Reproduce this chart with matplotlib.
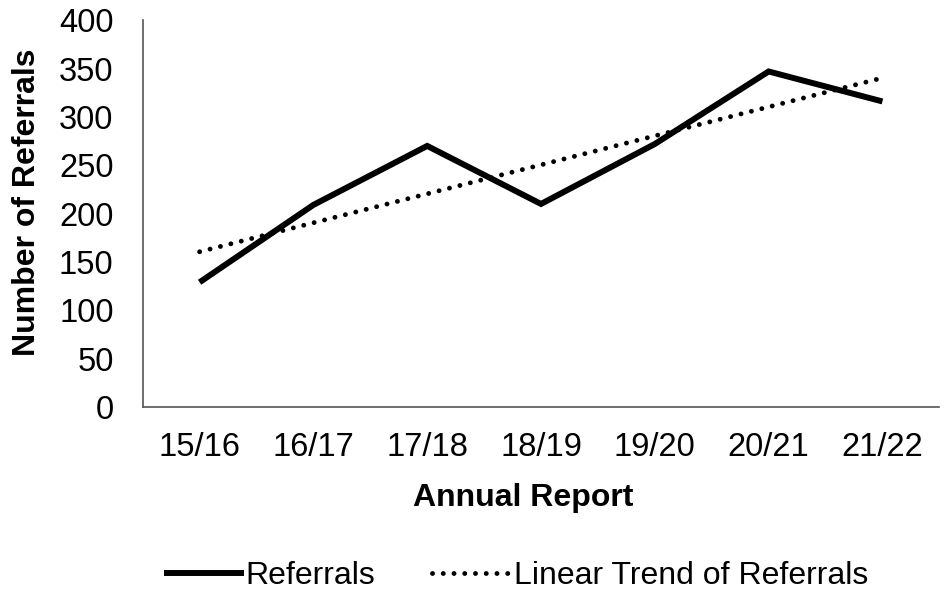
import matplotlib
matplotlib.use("Agg")
import matplotlib.pyplot as plt
import numpy as np

years = ["15/16", "16/17", "17/18", "18/19", "19/20", "20/21", "21/22"]
referrals = [129, 209, 270, 210, 272, 347, 316]
y_ticks = [0, 50, 100, 150, 200, 250, 300, 350, 400]

plt.rcParams["font.family"] = ["Liberation Sans", "DejaVu Sans"]

x = np.arange(len(years))
# Excel-style linear trendline fitted to the series
slope, intercept = np.polyfit(x, referrals, 1)
trend = slope * x + intercept

fig = plt.figure(figsize=(9.45, 5.95), dpi=100)
ax = fig.add_axes([0.151, 0.316, 0.843, 0.650])

ax.plot(x, referrals, color="black", lw=4.3, solid_capstyle="butt",
        solid_joinstyle="miter", label="Referrals")
ax.plot(x, trend, color="black", lw=3.5, linestyle=(0, (0.01, 2.2)),
        dash_capstyle="round", label="Linear Trend of Referrals")

ax.set_xlim(-0.5, 6.5)
ax.set_ylim(0, 400)
ax.set_xticks(x)
ax.set_xticklabels(years)
ax.set_yticks(y_ticks)
ax.tick_params(axis="both", length=0, labelsize=23.5)
ax.tick_params(axis="x", pad=18)
ax.tick_params(axis="y", pad=21)

for side in ["top", "right"]:
    ax.spines[side].set_visible(False)
for side in ["left", "bottom"]:
    ax.spines[side].set_color("#555555")
    ax.spines[side].set_linewidth(1.2)

ax.set_xlabel("Annual Report", fontsize=23, fontweight="bold")
ax.xaxis.set_label_coords(0.478, -0.197)
ax.set_ylabel("Number of Referrals", fontsize=23, fontweight="bold")
ax.yaxis.set_label_coords(-0.126, 0.53)

fig.legend(loc="center", bbox_to_anchor=(0.546, 0.032), ncol=2, frameon=False,
           fontsize=23, handlelength=2.5, handletextpad=0.05, columnspacing=1.8)

fig.savefig("out.png", dpi=100)
